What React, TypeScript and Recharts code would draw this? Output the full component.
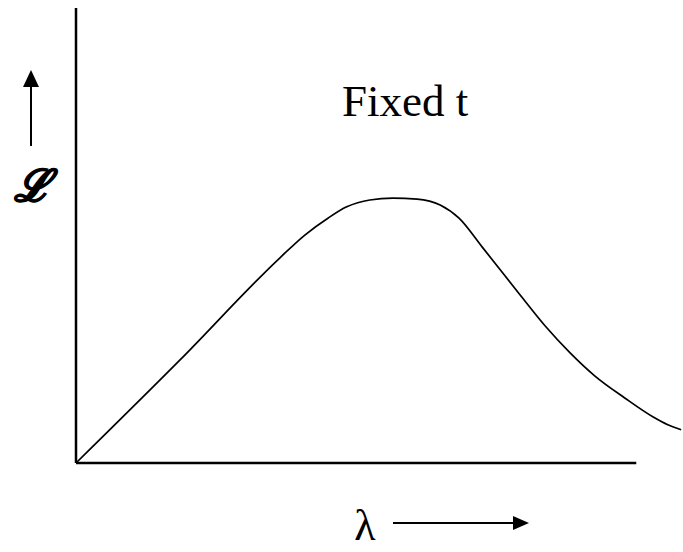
import React from "react";
import { LineChart, Line, XAxis, YAxis, ReferenceLine, Customized } from "recharts";

const lambdaValues = [0, 17.1, 33.6, 37.7, 41.5, 44.6, 48.4, 52.2, 56.2, 60.0, 63.1, 66.9, 73.3, 77.3, 81.4, 85.5, 90.4, 95.1, 97.5, 99.7];
const likelihoodValues = [0, 22.6, 45.1, 50.1, 53.8, 56.3, 57.8, 58.2, 58.0, 56.7, 53.8, 47.5, 36.7, 30.1, 24.2, 19.1, 14.3, 10.1, 8.4, 7.3];
const curveLabel = "Fixed t";
const yLabel = "\u2112";
const xLabel = "\u03bb";
const xAxisEnd = 92.3;
const yAxisEnd = 100;

const data = lambdaValues.map((x, i) => ({ x, y: likelihoodValues[i] }));

const serif = "'Liberation Serif', 'Times New Roman', serif";

const Annotations = () => (
  <g>
    <text x={342} y={116} fontFamily={serif} fontSize={45} fill="#000">{curveLabel}</text>
    <line x1={31} y1={146} x2={31} y2={84} stroke="#000" strokeWidth={2} />
    <polygon points="31,70 23,87 39,87" fill="#000" />
    <text x={32} y={201} textAnchor="middle" fontFamily="'DejaVu Serif', serif" fontStyle="italic" fontWeight="bold" fontSize={44} fill="#000" stroke="#000" strokeWidth={1.2}>{yLabel}</text>
    <text x={365} y={540} textAnchor="middle" fontFamily={serif} fontSize={44} fill="#000">{xLabel}</text>
    <line x1={393} y1={523} x2={515} y2={523} stroke="#000" strokeWidth={2} />
    <polygon points="529,523 513,516 513,530" fill="#000" />
  </g>
);

export default function App() {
  return (
    <div style={{ position: "absolute", left: 0, top: 0, background: "#fff" }}>
      <LineChart width={683} height={552} data={data} margin={{ top: 8, right: 0, left: 76, bottom: 89 }}>
        <XAxis type="number" dataKey="x" domain={[0, 100]} hide />
        <YAxis type="number" domain={[0, 100]} hide />
        <ReferenceLine segment={[{ x: 0, y: 0 }, { x: xAxisEnd, y: 0 }]} stroke="#000" strokeWidth={2.5} ifOverflow="visible" />
        <ReferenceLine segment={[{ x: 0, y: 0 }, { x: 0, y: yAxisEnd }]} stroke="#000" strokeWidth={2.5} ifOverflow="visible" />
        <Line type="monotone" dataKey="y" stroke="#000" strokeWidth={1.7} dot={false} isAnimationActive={false} />
        <Customized component={Annotations} />
      </LineChart>
    </div>
  );
}
